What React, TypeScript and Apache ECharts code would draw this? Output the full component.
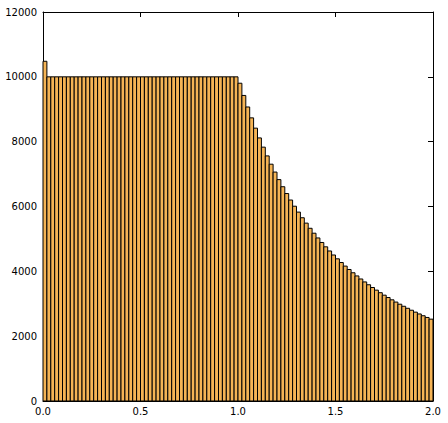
import React, { useEffect, useRef } from "react";
import * as echarts from "echarts";

const binStart = 0;
const binWidth = 0.02;
const counts: number[] = [
  10480, 10000, 10000, 10000, 10000, 10000, 10000, 10000, 10000, 10000,
  10000, 10000, 10000, 10000, 10000, 10000, 10000, 10000, 10000, 10000,
  10000, 10000, 10000, 10000, 10000, 10000, 10000, 10000, 10000, 10000,
  10000, 10000, 10000, 10000, 10000, 10000, 10000, 10000, 10000, 10000,
  10000, 10000, 10000, 10000, 10000, 10000, 10000, 10000, 10000, 10000,
  9803, 9426, 9070, 8734, 8417, 8116, 7831, 7561, 7305, 7062,
  6830, 6610, 6400, 6200, 6009, 5827, 5653, 5487, 5328, 5176,
  5030, 4890, 4756, 4628, 4504, 4386, 4272, 4162, 4057, 3956,
  3858, 3764, 3673, 3586, 3501, 3420, 3341, 3265, 3192, 3121,
  3052, 2986, 2922, 2860, 2800, 2741, 2685, 2630, 2577, 2525,
];
const xTicks = [0, 0.5, 1.0, 1.5, 2.0];
const yTicks = [0, 2000, 4000, 6000, 8000, 10000, 12000];

export default function App() {
  const ref = useRef<HTMLDivElement>(null);
  useEffect(() => {
    if (!ref.current) return;
    const chart = echarts.init(ref.current, undefined, { renderer: "svg" });
    const data = counts.map((c, i) => [binStart + i * binWidth, binStart + (i + 1) * binWidth, c]);
    const font = "DejaVu Sans";
    const axisLine = { show: true, onZero: false, lineStyle: { color: "#000", width: 1 } };
    const tick = { show: true, inside: true, length: 5, lineStyle: { color: "#000", width: 1 } };
    chart.setOption({
      animation: false,
      backgroundColor: "#fff",
      grid: { left: 43, top: 12, width: 390, height: 389, containLabel: false },
      xAxis: [
        {
          type: "value",
          min: xTicks[0],
          max: xTicks[xTicks.length - 1],
          interval: 0.5,
          axisLine,
          axisTick: tick,
          splitLine: { show: false },
          axisLabel: {
            color: "#000",
            fontFamily: font,
            fontSize: 10,
            margin: 5,
            formatter: (v: number) => v.toFixed(1),
          },
        },
        {
          type: "value",
          position: "top",
          min: xTicks[0],
          max: xTicks[xTicks.length - 1],
          interval: 0.5,
          axisLine,
          axisTick: tick,
          splitLine: { show: false },
          axisLabel: { show: false },
        },
      ],
      yAxis: [
        {
          type: "value",
          min: yTicks[0],
          max: yTicks[yTicks.length - 1],
          interval: 2000,
          axisLine,
          axisTick: tick,
          splitLine: { show: false },
          axisLabel: {
            color: "#000",
            fontFamily: font,
            fontSize: 10,
            margin: 6,
            formatter: (v: number) => String(v),
          },
        },
        {
          type: "value",
          position: "right",
          min: yTicks[0],
          max: yTicks[yTicks.length - 1],
          interval: 2000,
          axisLine,
          axisTick: tick,
          splitLine: { show: false },
          axisLabel: { show: false },
        },
      ],
      series: [
        {
          type: "custom",
          xAxisIndex: 0,
          yAxisIndex: 0,
          data,
          encode: { x: [0, 1], y: 2 },
          renderItem: (params: any, api: any) => {
            const x0 = api.value(0);
            const x1 = api.value(1);
            const v = api.value(2);
            const p0 = api.coord([x0, v]);
            const p1 = api.coord([x1, 0]);
            return {
              type: "rect",
              shape: { x: p0[0], y: p0[1], width: p1[0] - p0[0], height: p1[1] - p0[1] },
              style: { fill: "#f5b455", stroke: "#000", lineWidth: 1 },
            };
          },
        },
      ],
    });
    return () => chart.dispose();
  }, []);
  return (
    <div
      ref={ref}
      style={{ position: "fixed", left: 0, top: 0, width: 448, height: 423, background: "#fff" }}
    />
  );
}
